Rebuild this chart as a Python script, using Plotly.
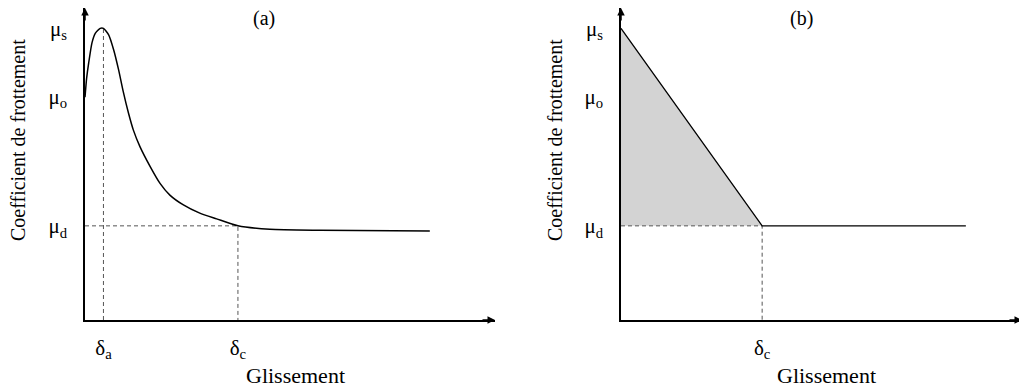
import plotly.graph_objects as go

# friction levels (y units)
mu_s = 9.2
mu_0 = 7.05
mu_d = 2.97

# (a) measured curve: slip vs friction coefficient
slip_a = [0, 0.04, 0.09, 0.17, 0.25, 0.37, 0.45, 0.58, 0.70, 0.82, 0.93, 1.06,
          1.18, 1.34, 1.59, 1.83, 2.07, 2.40, 2.80, 3.21, 3.73, 4.51, 5.73, 8.41]
mu_a = [7.03, 7.63, 8.11, 8.74, 9.04, 9.20, 9.20, 8.99, 8.52, 7.89, 7.22, 6.53,
        5.99, 5.47, 4.84, 4.31, 3.94, 3.63, 3.37, 3.19, 2.97, 2.86, 2.83, 2.81]
delta_a = 0.45
delta_c_a = 3.73

# (b) linear slip-weakening law
delta_c_b = 3.52
slip_end_b = 8.6

y_ticks = [mu_d, mu_0, mu_s]
y_ticktext = ["μ<sub>d</sub>", "μ<sub>o</sub>", "μ<sub>s</sub>"]

W, H = 1027, 390
OFF = 8          # page body margin
Y_PX = 31.7      # pixels per y unit
FONT = "'Liberation Serif', 'Times New Roman', serif"
DASH = dict(color="#555555", width=1, dash="4px,3px")


def px_x(p):
    return (p - OFF) / W


def px_y(p):
    return 1 - (p - OFF) / H


fig = go.Figure()

# ---- panel (a)
fig.add_trace(go.Scatter(x=[delta_a, delta_a], y=[0, mu_s], mode="lines",
                         line=DASH, xaxis="x", yaxis="y"))
fig.add_trace(go.Scatter(x=[0, delta_c_a, delta_c_a], y=[mu_d, mu_d, 0], mode="lines",
                         line=DASH, xaxis="x", yaxis="y"))
fig.add_trace(go.Scatter(x=slip_a, y=mu_a, mode="lines",
                         line=dict(color="black", width=1.5, shape="spline", smoothing=0.6),
                         xaxis="x", yaxis="y"))

# ---- panel (b)
fig.add_trace(go.Scatter(x=[0, delta_c_b, 0], y=[mu_s, mu_d, mu_d], mode="lines",
                         fill="toself", fillcolor="#d3d3d3", line=dict(width=0),
                         xaxis="x2", yaxis="y2"))
fig.add_trace(go.Scatter(x=[0, delta_c_b, delta_c_b], y=[mu_d, mu_d, 0], mode="lines",
                         line=DASH, xaxis="x2", yaxis="y2"))
fig.add_trace(go.Scatter(x=[0, delta_c_b, slip_end_b], y=[mu_s, mu_d, mu_d], mode="lines",
                         line=dict(color="black", width=1.3), xaxis="x2", yaxis="y2"))

y_top = (320 - OFF) / Y_PX
ydom = [px_y(320), 1]
common_axis = dict(showgrid=False, zeroline=False, showline=True, linecolor="black",
                   linewidth=1.5, ticks="", fixedrange=True, automargin=False,
                   tickfont=dict(family=FONT, size=21, color="black"))

fig.update_layout(
    template="none",
    width=W, height=H,
    paper_bgcolor="white", plot_bgcolor="white",
    margin=dict(l=0, r=0, t=0, b=0),
    showlegend=False,
    font=dict(family=FONT, color="black", size=19),
    xaxis=dict(common_axis, domain=[px_x(85), px_x(495)], anchor="y", range=[0, 10],
               tickvals=[delta_a, delta_c_a],
               ticktext=["δ<sub>a</sub>", "δ<sub>c</sub>"], ticklabelstandoff=8),
    yaxis=dict(common_axis, domain=ydom, anchor="x", range=[0, y_top],
               tickvals=y_ticks, ticktext=y_ticktext, ticklabelstandoff=12),
    xaxis2=dict(common_axis, domain=[px_x(621), px_x(1022)], anchor="y2", range=[0, 10],
                tickvals=[delta_c_b], ticktext=["δ<sub>c</sub>"], ticklabelstandoff=8),
    yaxis2=dict(common_axis, domain=ydom, anchor="x2", range=[0, y_top],
                tickvals=y_ticks, ticktext=y_ticktext, ticklabelstandoff=12),
)

# arrow heads at the axis ends
for xr, yr in [("x", "y"), ("x2", "y2")]:
    fig.add_annotation(x=0, y=y_top, xref=xr, yref=yr, ax=0, ay=14, text="",
                       showarrow=True, arrowhead=2, arrowsize=1, arrowwidth=1.5,
                       arrowcolor="black")
    fig.add_annotation(x=10, y=0, xref=xr, yref=yr, ax=-14, ay=0, text="",
                       showarrow=True, arrowhead=2, arrowsize=1, arrowwidth=1.5,
                       arrowcolor="black")

# titles
for cx, label in [(264, "(a)"), (801, "(b)")]:
    fig.add_annotation(x=px_x(cx), y=px_y(18), xref="paper", yref="paper",
                       xanchor="center", yanchor="middle",
                       text=label, showarrow=False, font=dict(family=FONT, size=20))
for cx in [295, 826]:
    fig.add_annotation(x=px_x(cx), y=px_y(375), xref="paper", yref="paper",
                       xanchor="center", yanchor="middle",
                       text="Glissement", showarrow=False, font=dict(family=FONT, size=22))
for cx in [18, 555]:
    fig.add_annotation(x=px_x(cx), y=px_y(140), xref="paper", yref="paper",
                       xanchor="center", yanchor="middle",
                       text="Coefficient de frottement", textangle=-90,
                       showarrow=False, font=dict(family=FONT, size=20))

fig.write_html("out.html")
